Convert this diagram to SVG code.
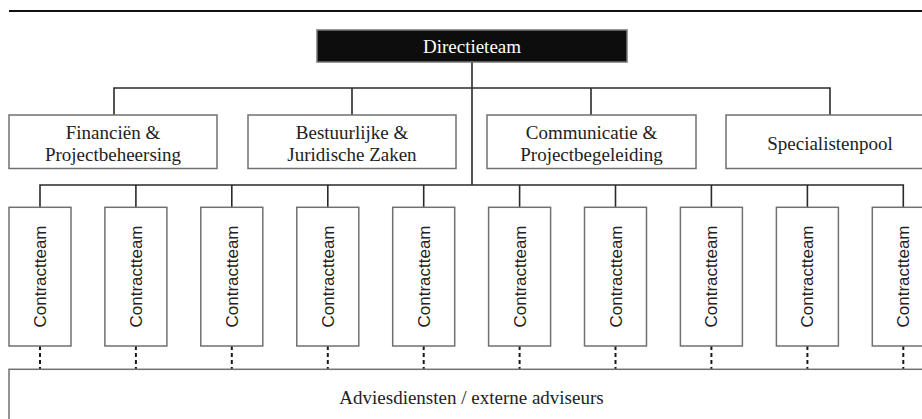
<svg xmlns="http://www.w3.org/2000/svg" width="922" height="419" viewBox="0 0 922 419">
<style>
.box{fill:#fff;stroke:#707070;stroke-width:1.5}
.dir{fill:#0d0d0d;stroke:#777;stroke-width:1.5}
.con{fill:none;stroke:#2a2a2a;stroke-width:1.6}
.dash{fill:none;stroke:#1a1a1a;stroke-width:2;stroke-dasharray:4 3}
.t{font-family:"Liberation Serif","Times New Roman",serif;font-size:19px;fill:#222;text-anchor:middle}
.tw{font-family:"Liberation Serif","Times New Roman",serif;font-size:19px;fill:#fff;text-anchor:middle}
.v{font-family:"Liberation Sans",Arial,sans-serif;font-size:17px;fill:#222;text-anchor:middle}
</style>
<rect width="922" height="419" fill="#fff"/>
<line x1="9" y1="11" x2="922" y2="11" stroke="#111" stroke-width="2"/>
<g id="connectors">
<path class="con" d="M472,62 V185"/>
<path class="con" d="M114,115 V88 H830 V115 M352,88 V115 M591,88 V115"/>
<path class="con" d="M40,207 V185 H903.3 V207 M135.9,185 V207 M231.8,185 V207 M327.8,185 V207 M423.7,185 V207 M519.6,185 V207 M615.5,185 V207 M711.4,185 V207 M807.4,185 V207"/>
<path class="dash" d="M40,346 V369 M135.9,346 V369 M231.8,346 V369 M327.8,346 V369 M423.7,346 V369 M519.6,346 V369 M615.5,346 V369 M711.4,346 V369 M807.4,346 V369 M903.3,346 V369"/>
</g>
<g id="directieteam">
<rect class="dir" x="317" y="30" width="310" height="32"/>
<text class="tw" x="472" y="52.5">Directieteam</text>
</g>
<g id="financien">
<rect class="box" x="9" y="115" width="208" height="53.5"/>
<text class="t" x="113" y="138.5">Financiën &amp;</text>
<text class="t" x="113" y="161">Projectbeheersing</text>
</g>
<g id="bestuurlijke">
<rect class="box" x="248" y="115" width="208" height="53.5"/>
<text class="t" x="352" y="138.5">Bestuurlijke &amp;</text>
<text class="t" x="352" y="161">Juridische Zaken</text>
</g>
<g id="communicatie">
<rect class="box" x="487" y="115" width="209" height="53.5"/>
<text class="t" x="591.5" y="138.5">Communicatie &amp;</text>
<text class="t" x="591.5" y="161">Projectbegeleiding</text>
</g>
<g id="specialistenpool">
<rect class="box" x="726" y="115" width="208" height="53.5"/>
<text class="t" x="830" y="149.5">Specialistenpool</text>
</g>
<g id="contractteam1"><rect class="box" x="9" y="207.3" width="62" height="138.7"/><text class="v" transform="translate(46,276.5) rotate(-90)">Contractteam</text></g>
<g id="contractteam2"><rect class="box" x="104.9" y="207.3" width="62" height="138.7"/><text class="v" transform="translate(141.9,276.5) rotate(-90)">Contractteam</text></g>
<g id="contractteam3"><rect class="box" x="200.8" y="207.3" width="62" height="138.7"/><text class="v" transform="translate(237.8,276.5) rotate(-90)">Contractteam</text></g>
<g id="contractteam4"><rect class="box" x="296.8" y="207.3" width="62" height="138.7"/><text class="v" transform="translate(333.8,276.5) rotate(-90)">Contractteam</text></g>
<g id="contractteam5"><rect class="box" x="392.7" y="207.3" width="62" height="138.7"/><text class="v" transform="translate(429.7,276.5) rotate(-90)">Contractteam</text></g>
<g id="contractteam6"><rect class="box" x="488.6" y="207.3" width="62" height="138.7"/><text class="v" transform="translate(525.6,276.5) rotate(-90)">Contractteam</text></g>
<g id="contractteam7"><rect class="box" x="584.5" y="207.3" width="62" height="138.7"/><text class="v" transform="translate(621.5,276.5) rotate(-90)">Contractteam</text></g>
<g id="contractteam8"><rect class="box" x="680.4" y="207.3" width="62" height="138.7"/><text class="v" transform="translate(717.4,276.5) rotate(-90)">Contractteam</text></g>
<g id="contractteam9"><rect class="box" x="776.4" y="207.3" width="62" height="138.7"/><text class="v" transform="translate(813.4,276.5) rotate(-90)">Contractteam</text></g>
<g id="contractteam10"><rect class="box" x="872.3" y="207.3" width="62" height="138.7"/><text class="v" transform="translate(909.3,276.5) rotate(-90)">Contractteam</text></g>
<g id="adviesdiensten">
<rect class="box" x="9" y="369.3" width="940" height="80"/>
<text class="t" x="471.5" y="403.5">Adviesdiensten / externe adviseurs</text>
</g>
</svg>
